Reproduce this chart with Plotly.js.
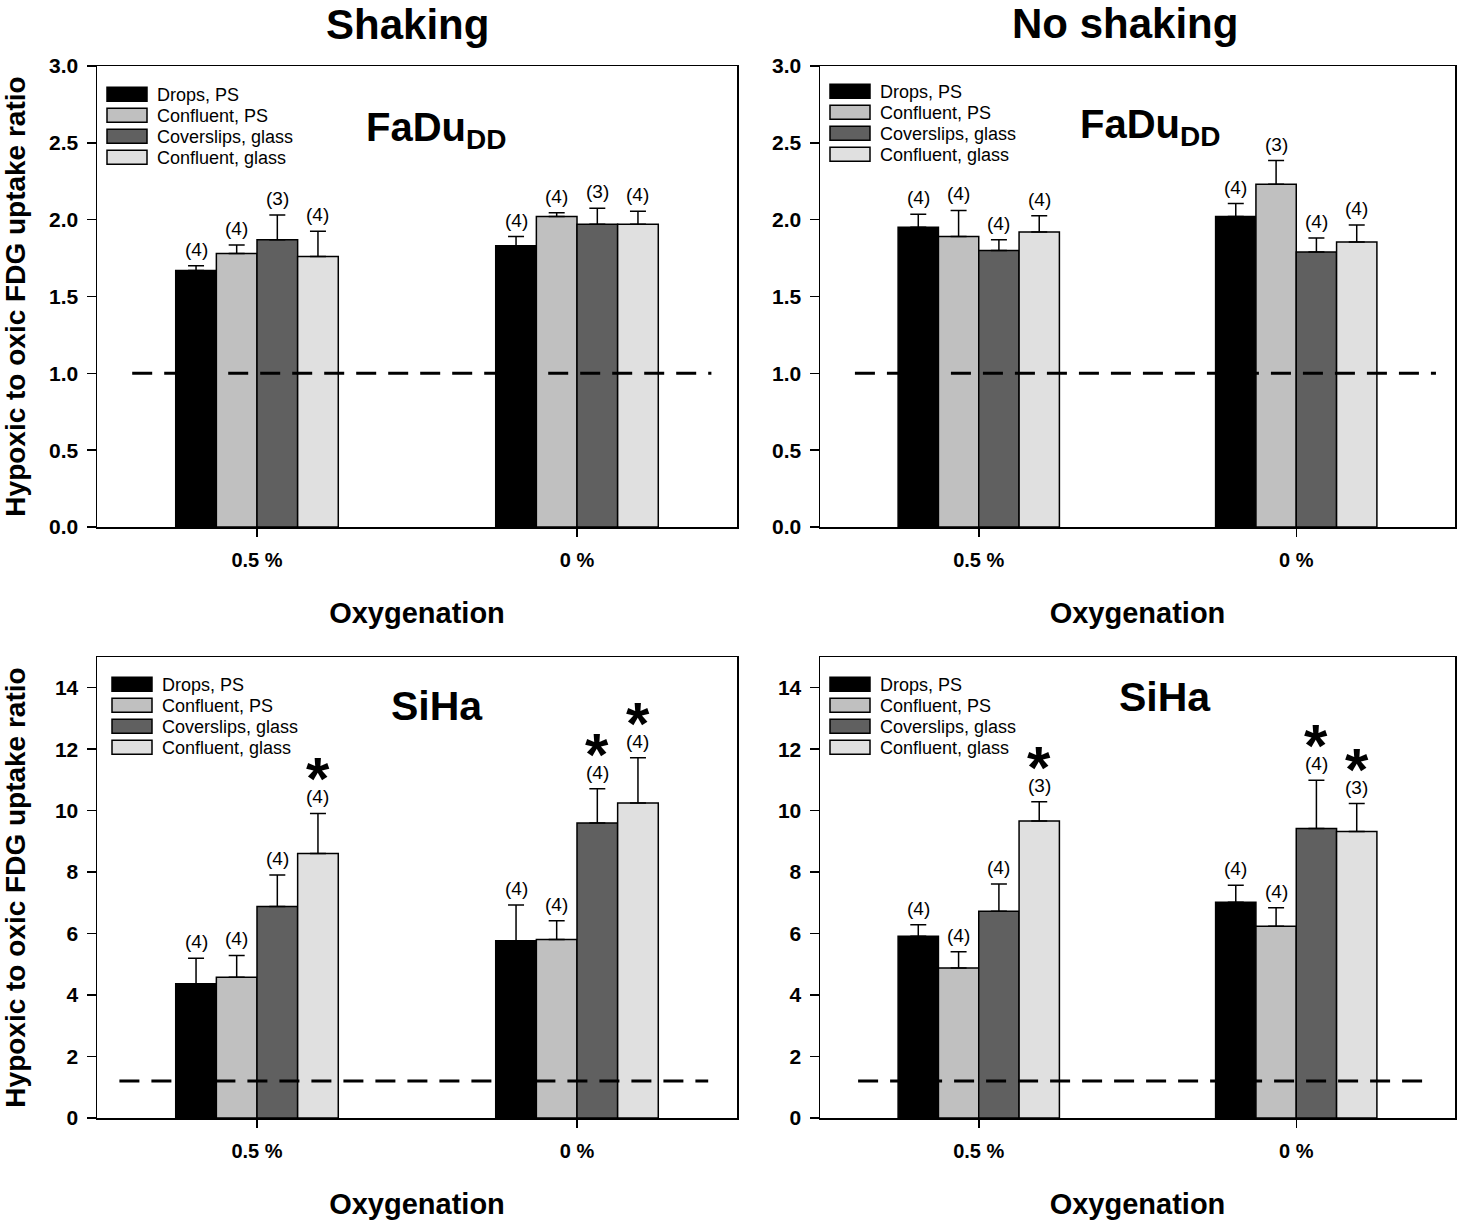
<!DOCTYPE html>
<html>
<head>
<meta charset="utf-8">
<script src="https://cdn.plot.ly/plotly-3.0.1.min.js"></script>
<style>html,body{margin:0;padding:0;background:#fff;}</style>
</head>
<body>
<div id="chart" style="width:1459px;height:1225px;"></div>
<script>
// ---------------- DATA ----------------
const categories = ['0.5 %', '0 %'];
const seriesNames = ['Drops, PS', 'Confluent, PS', 'Coverslips, glass', 'Confluent, glass'];
const panelTitles = ['Shaking', 'No shaking'];
const cellLines = ['FaDu<sub>DD</sub>', 'SiHa'];
const xAxisTitle = 'Oxygenation';
const yAxisTitle = 'Hypoxic to oxic FDG uptake ratio';

// rows = series (Drops PS, Confluent PS, Coverslips glass, Confluent glass); cols = categories (0.5 %, 0 %)
// FaDuDD, shaking
const faduShakeMean = [[1.67, 1.83], [1.78, 2.02], [1.87, 1.97], [1.76, 1.97]];
const faduShakeErr  = [[0.03, 0.06], [0.055, 0.025], [0.16, 0.105], [0.165, 0.085]];
const faduShakeN    = [['(4)', '(4)'], ['(4)', '(4)'], ['(3)', '(3)'], ['(4)', '(4)']];
const faduShakeStar = [[0, 0], [0, 0], [0, 0], [0, 0]];
// FaDuDD, no shaking
const faduStillMean = [[1.95, 2.02], [1.89, 2.23], [1.80, 1.79], [1.92, 1.855]];
const faduStillErr  = [[0.085, 0.085], [0.17, 0.155], [0.07, 0.09], [0.105, 0.11]];
const faduStillN    = [['(4)', '(4)'], ['(4)', '(3)'], ['(4)', '(4)'], ['(4)', '(4)']];
const faduStillStar = [[0, 0], [0, 0], [0, 0], [0, 0]];
// SiHa, shaking
const sihaShakeMean = [[4.37, 5.77], [4.58, 5.81], [6.88, 9.60], [8.61, 10.25]];
const sihaShakeErr  = [[0.83, 1.16], [0.71, 0.61], [1.03, 1.11], [1.30, 1.47]];
const sihaShakeN    = [['(4)', '(4)'], ['(4)', '(4)'], ['(4)', '(4)'], ['(4)', '(4)']];
const sihaShakeStar = [[0, 0], [0, 0], [0, 1], [1, 1]];
// SiHa, no shaking
const sihaStillMean = [[5.91, 7.02], [4.88, 6.24], [6.73, 9.42], [9.66, 9.32]];
const sihaStillErr  = [[0.38, 0.55], [0.53, 0.60], [0.88, 1.57], [0.63, 0.91]];
const sihaStillN    = [['(4)', '(4)'], ['(4)', '(4)'], ['(4)', '(4)'], ['(3)', '(3)']];
const sihaStillStar = [[0, 0], [0, 0], [0, 1], [1, 1]];

// reference (dashed) lines: level and x extent in category units
const faduRefLevel = 1.0;
const sihaRefLevel = 1.2;
const faduShakeRefX = [-0.39, 1.42];
const faduStillRefX = [-0.39, 1.44];
const sihaShakeRefX = [-0.43, 1.41];
const sihaStillRefX = [-0.38, 1.43];

// ---------------- STYLE ----------------
const FONT = 'Liberation Sans, Arial, Helvetica, sans-serif';
const seriesColors = ['#000000', '#c0c0c0', '#606060', '#e0e0e0'];
const barW = 0.127;
const W = 1459, H = 1225;
const px = v => v / W, py = v => 1 - v / H;

const panels = [
  {mean: faduShakeMean, err: faduShakeErr, n: faduShakeN, star: faduShakeStar, ref: faduRefLevel, refX: faduShakeRefX, ax: '', legend: 'legend', cell: cellLines[0]},
  {mean: faduStillMean, err: faduStillErr, n: faduStillN, star: faduStillStar, ref: faduRefLevel, refX: faduStillRefX, ax: '2', legend: 'legend2', cell: cellLines[0]},
  {mean: sihaShakeMean, err: sihaShakeErr, n: sihaShakeN, star: sihaShakeStar, ref: sihaRefLevel, refX: sihaShakeRefX, ax: '3', legend: 'legend3', cell: cellLines[1]},
  {mean: sihaStillMean, err: sihaStillErr, n: sihaStillN, star: sihaStillStar, ref: sihaRefLevel, refX: sihaStillRefX, ax: '4', legend: 'legend4', cell: cellLines[1]}
];

const catX = categories.map((c, i) => i);
const traces = [];
const annotations = [];

panels.forEach(p => {
  const xa = 'x' + p.ax, ya = 'y' + p.ax;
  seriesNames.forEach((name, s) => {
    const off = -2 * barW + s * barW;
    traces.push({
      type: 'bar', name: name, x: catX, y: p.mean[s],
      xaxis: xa, yaxis: ya, legend: p.legend,
      width: barW, offset: off,
      marker: {color: seriesColors[s], line: {color: '#000', width: 1.5}},
      error_y: {type: 'data', array: p.err[s], arrayminus: p.err[s].map(() => 0), symmetric: false,
                color: '#000', thickness: 1.5, width: 8},
      hoverinfo: 'skip'
    });
    catX.forEach((cx, k) => {
      const xc = cx + off + barW / 2;
      const top = p.mean[s][k] + p.err[s][k];
      annotations.push({xref: xa, yref: ya, x: xc, y: top, xanchor: 'center', yanchor: 'bottom', yshift: 4,
        text: p.n[s][k], showarrow: false, font: {family: FONT, size: 19, color: '#000'}});
      if (p.star[s][k]) {
        annotations.push({xref: xa, yref: ya, x: xc, y: top, xanchor: 'center', yanchor: 'bottom', yshift: 31,
          height: 36, valign: 'top', borderpad: 0,
          text: '*', showarrow: false, font: {family: FONT, size: 60, color: '#000', weight: 'bold'}});
      }
    });
  });
  traces.push({
    type: 'scatter', mode: 'lines', x: p.refX, y: [p.ref, p.ref], xaxis: xa, yaxis: ya,
    line: {color: '#000', width: 3, dash: '20px,12px'}, showlegend: false, hoverinfo: 'skip'
  });
});

function xAxis(dom, anchor) {
  return {domain: dom, anchor: anchor, range: [-0.5, 1.5], tickvals: catX, ticktext: categories,
    showline: true, mirror: true, linecolor: '#000', linewidth: 1.5, ticks: 'outside', ticklen: 8,
    tickwidth: 1.5, tickcolor: '#000', showgrid: false, zeroline: false, ticklabelstandoff: 6,
    tickfont: {family: FONT, size: 20, weight: 'bold', color: '#000'},
    title: {text: xAxisTitle, standoff: 33, font: {family: FONT, size: 29, weight: 'bold', color: '#000'}}};
}
function yAxis(dom, anchor, range, dtick, fmt, withTitle) {
  const a = {domain: dom, anchor: anchor, range: range, dtick: dtick, tick0: 0, tickformat: fmt,
    showline: true, mirror: true, linecolor: '#000', linewidth: 1.5, ticks: 'outside', ticklen: 9,
    tickwidth: 1.5, tickcolor: '#000', showgrid: false, zeroline: false, ticklabelstandoff: 4,
    tickfont: {family: FONT, size: 21, weight: 'bold', color: '#000'}};
  if (withTitle) a.title = {text: yAxisTitle, standoff: 27, font: {family: FONT, size: 28, weight: 'bold', color: '#000'}};
  return a;
}

const xL = [px(97), px(737)], xR = [px(820), px(1455)];
const yT = [py(527), py(66)], yB = [py(1118), py(657)];

function legendAt(x, y) {
  return {x: px(x), y: py(y), xanchor: 'left', yanchor: 'top', bgcolor: 'rgba(0,0,0,0)', borderwidth: 0,
    font: {family: FONT, size: 18, color: '#000'}, itemwidth: 50, tracegroupgap: 0, itemclick: false};
}

// panel titles
annotations.push({xref: 'paper', yref: 'paper', x: px(407), y: py(24), xanchor: 'center', yanchor: 'middle',
  text: '<b>' + panelTitles[0] + '</b>', showarrow: false, font: {family: FONT, size: 42, color: '#000'}});
annotations.push({xref: 'paper', yref: 'paper', x: px(1125), y: py(23), xanchor: 'center', yanchor: 'middle',
  text: '<b>' + panelTitles[1] + '</b>', showarrow: false, font: {family: FONT, size: 42, color: '#000'}});
// cell line labels
[[436, 130, 0, 40], [1150, 127, 1, 40], [437, 706, 2, 41], [1165, 697, 3, 41]].forEach(([x, y, i, fs]) => {
  annotations.push({xref: 'paper', yref: 'paper', x: px(x), y: py(y), xanchor: 'center', yanchor: 'middle',
    text: '<b>' + panels[i].cell + '</b>', showarrow: false, font: {family: FONT, size: fs, color: '#000'}});
});

const layout = {
  width: W, height: H, margin: {l: 0, r: 0, t: 0, b: 0},
  paper_bgcolor: '#fff', plot_bgcolor: '#fff', barmode: 'overlay', showlegend: true,
  font: {family: FONT, color: '#000'},
  xaxis: xAxis(xL, 'y'), yaxis: yAxis(yT, 'x', [0, 3], 0.5, '.1f', true),
  xaxis2: xAxis(xR, 'y2'), yaxis2: yAxis(yT, 'x2', [0, 3], 0.5, '.1f', false),
  xaxis3: xAxis(xL, 'y3'), yaxis3: yAxis(yB, 'x3', [0, 15], 2, 'd', true),
  xaxis4: xAxis(xR, 'y4'), yaxis4: yAxis(yB, 'x4', [0, 15], 2, 'd', false),
  legend: legendAt(97, 76), legend2: legendAt(820, 73), legend3: legendAt(102, 666), legend4: legendAt(820, 666),
  annotations: annotations
};

function tightenLegends(rowGap) {
  const groups = new Map();
  document.querySelectorAll('g.traces').forEach(t => {
    const par = t.parentNode;
    if (!groups.has(par)) groups.set(par, []);
    groups.get(par).push(t);
  });
  const parse = s => {
    const m = /translate\(\s*([-\d.eE]+)[\s,]+([-\d.eE]+)\s*\)/.exec(s || '');
    return m ? [+m[1], +m[2]] : [0, 0];
  };
  groups.forEach(list => {
    const first = parse(list[0].getAttribute('transform'));
    list.forEach((t, i) => t.setAttribute('transform', 'translate(' + first[0] + ',' + (first[1] + i * rowGap) + ')'));
  });
  document.querySelectorAll('.legendpoints path').forEach(p => {
    p.setAttribute('d', 'M20,7H-20V-7H20Z');
  });
}

Plotly.newPlot('chart', traces, layout, {staticPlot: true}).then(() => tightenLegends(21));
</script>
</body>
</html>
